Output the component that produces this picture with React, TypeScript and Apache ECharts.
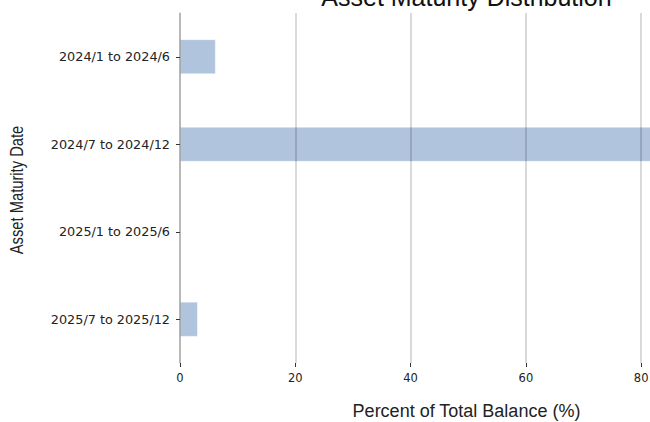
import React, { useEffect, useRef } from "react";
import * as echarts from "echarts";

const categories = ["2024/1 to 2024/6", "2024/7 to 2024/12", "2025/1 to 2025/6", "2025/7 to 2025/12"];
const percentValues = [6.2, 94.7, 0, 3.1];
const xMax = 99.4;
const xInterval = 20;
const titleText = "Asset Maturity Distribution";
const xName = "Percent of Total Balance (%)";
const yName = "Asset Maturity Date";

export default function App() {
  const ref = useRef<HTMLDivElement>(null);
  useEffect(() => {
    if (!ref.current) return;
    const chart = echarts.init(ref.current, undefined, { renderer: "svg" });
    chart.setOption({
      animation: false,
      backgroundColor: "#ffffff",
      graphic: [
        {
          type: "text",
          x: 466.5,
          y: 17,
          style: {
            text: titleText,
            fontFamily: "Liberation Sans, Arial, sans-serif",
            fontSize: 25,
            fill: "#111",
            align: "center",
            verticalAlign: "middle",
          },
        },
        {
          type: "text",
          x: 16,
          y: 210,
          rotation: Math.PI / 2,
          scaleX: 0.82,
          style: {
            text: yName,
            fontFamily: "Liberation Sans, Arial, sans-serif",
            fontSize: 18,
            fill: "#222",
            align: "center",
            verticalAlign: "middle",
          },
        },
      ],
      grid: { left: 180, top: 33, width: 573, height: 350, containLabel: false, outerBoundsMode: "none" },
      xAxis: {
        type: "value",
        min: 0,
        max: xMax,
        interval: xInterval,
        z: 3,
        name: xName,
        nameLocation: "middle",
        nameGap: 39,
        nameTextStyle: { fontFamily: "Liberation Sans, Arial, sans-serif", fontSize: 18, color: "#222" },
        axisLine: { show: false },
        axisTick: { show: true, length: 4, lineStyle: { color: "#333", width: 1 } },
        axisLabel: { fontFamily: "DejaVu Sans", fontSize: 11.5, color: "#222", margin: 9 },
        splitLine: { show: true, lineStyle: { color: "rgba(0,0,0,0.2)", width: 1.5 } },
      },
      yAxis: {
        type: "category",
        data: categories,
        inverse: true,
        z: 3,
        axisLine: { show: true, lineStyle: { color: "rgba(0,0,0,0.2)", width: 1.5 } },
        axisTick: { show: true, alignWithLabel: true, length: 4, lineStyle: { color: "#333", width: 1 } },
        axisLabel: { fontFamily: "DejaVu Sans", fontSize: 12.8, color: "#222", margin: 10 },
        splitLine: { show: false },
      },
      series: [
        {
          type: "bar",
          data: percentValues,
          barWidth: "40%",
          itemStyle: { color: "#b0c4de", borderColor: "rgba(255,255,255,0.6)", borderWidth: 0.8 },
        },
      ],
    });
    return () => chart.dispose();
  }, []);
  return (
    <div
      ref={ref}
      style={{ position: "absolute", left: 0, top: -20, width: 780, height: 442 }}
    />
  );
}
